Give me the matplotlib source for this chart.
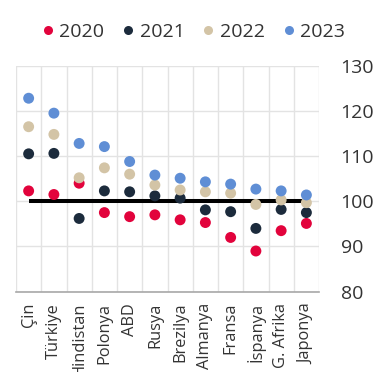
import numpy as np
import matplotlib
matplotlib.use("Agg")
import matplotlib.pyplot as plt
from matplotlib.lines import Line2D

plt.rcParams['font.family'] = ['Open Sans', 'DejaVu Sans']

countries = ["Çin", "Türkiye", "Hindistan", "Polonya", "ABD", "Rusya", "Brezilya",
             "Almanya", "Fransa", "İspanya", "G. Afrika", "Japonya"]
years = ["2020", "2021", "2022", "2023"]
v2020 = [102.3, 101.5, 104.0, 97.5, 96.6, 97.0, 95.9, 95.3, 92.0, 89.0, 93.5, 95.1]
v2021 = [110.5, 110.6, 96.2, 102.3, 102.1, 101.2, 100.7, 98.1, 97.7, 94.0, 98.2, 97.5]
v2022 = [116.5, 114.8, 105.2, 107.4, 106.0, 103.6, 102.5, 102.1, 101.8, 99.3, 100.3, 99.7]
v2023 = [122.8, 119.5, 112.8, 112.1, 108.8, 105.8, 105.1, 104.3, 103.8, 102.7, 102.3, 101.4]
series = [v2020, v2021, v2022, v2023]
colors = ["#E2033C", "#1C2B3C", "#D3C4A6", "#5F8ED5"]
baseline = 100
yticks = [80, 90, 100, 110, 120, 130]

fig = plt.figure(figsize=(3.85, 3.72), dpi=100)
ax = fig.add_axes([0.0416, 0.2159, 0.787, 0.6075])

x = np.arange(len(countries))
ax.plot([x[0], x[-1]], [baseline, baseline], color="black", lw=2.9, zorder=2,
        solid_capstyle="butt")
for vals, col, yr in zip(series, colors, years):
    ax.scatter(x, vals, s=62, color=col, edgecolors="none", zorder=3, label=yr)

ax.set_xlim(-0.5, len(countries) - 0.5)
ax.set_ylim(yticks[0], yticks[-1])
ax.set_yticks(yticks)
ax.set_xticks(x)
ax.set_xticklabels(countries, rotation=90)
ax.set_xticks(np.arange(-0.5, len(countries), 1), minor=True)
ax.grid(which="minor", axis="x", color="#E3E3E3", lw=1)
ax.grid(which="major", axis="y", color="#E3E3E3", lw=1)
ax.set_axisbelow(True)
for s in ["left", "right", "top"]:
    ax.spines[s].set_visible(False)
ax.spines["bottom"].set_color("#A8A8A8")
ax.spines["bottom"].set_linewidth(1.2)
ax.yaxis.tick_right()
ax.tick_params(axis="y", length=0, pad=15.5, labelsize=14, labelcolor="#333333")
ax.tick_params(axis="x", which="both", length=0, pad=8, labelsize=11.8,
               labelcolor="#333333")

handles = [Line2D([], [], marker="o", ls="none", color=c, markersize=6.5,
                  markeredgewidth=0) for c in colors]
fig.legend(handles, years, ncol=4, loc="center", bbox_to_anchor=(0.5, 1 - 32 / 372),
           frameon=False, fontsize=14, handlelength=0.8, handletextpad=0.2,
           columnspacing=0.82, labelcolor="#333333", borderaxespad=0, borderpad=0)

fig.savefig("out.png", dpi=100)
